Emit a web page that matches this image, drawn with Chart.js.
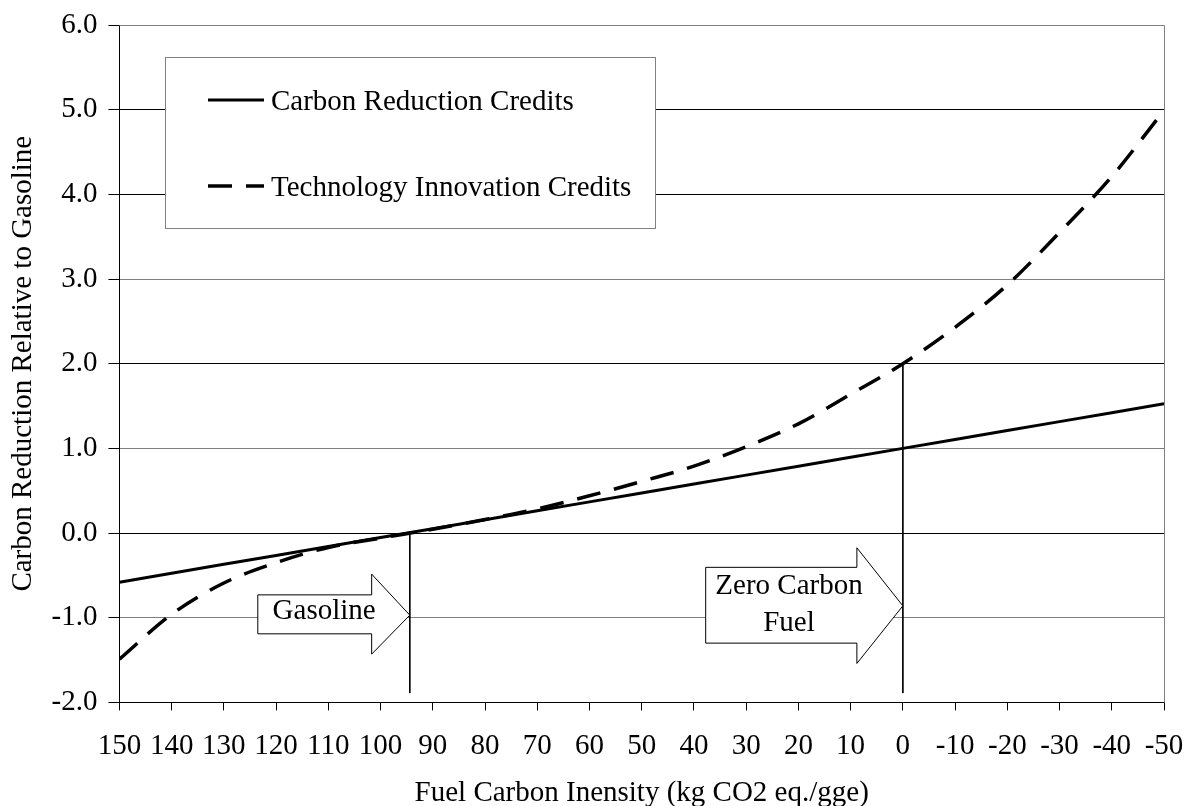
<!DOCTYPE html>
<html>
<head>
<meta charset="utf-8">
<script src="https://cdn.jsdelivr.net/npm/chart.js@4.4.1/dist/chart.umd.min.js"></script>
<style>
  html, body { margin: 0; padding: 0; background: #fff; }
  #wrap { width: 1187px; height: 806px; position: relative; }
</style>
</head>
<body>
<div id="wrap"><canvas id="c" width="1187" height="806"></canvas></div>
<script>
// ---------- DATA ----------
const fuelIntensity = [150, 140, 130, 120, 110, 100, 90, 80, 70, 60, 50, 40, 30, 20, 10, 0, -10, -20, -30, -40, -50];
const carbonReductionCredits = [-0.58, -0.474, -0.369, -0.264, -0.158, -0.053, 0.052, 0.158, 0.263, 0.368, 0.474, 0.579, 0.684, 0.789, 0.895, 1.0, 1.105, 1.21, 1.316, 1.421, 1.526];
const technologyInnovationCredits = [-1.49, -0.96, -0.59, -0.35, -0.17, -0.06, 0.045, 0.16, 0.285, 0.44, 0.61, 0.79, 1.02, 1.29, 1.64, 2.0, 2.43, 2.93, 3.55, 4.21, 4.99];
const seriesNames = ['Carbon Reduction Credits', 'Technology Innovation Credits'];
const xTickValues = { min: -50, max: 150, step: 10 };
const yTickValues = { min: -2, max: 6, step: 1 };
const xTitle = 'Fuel Carbon Inensity (kg CO2 eq./gge)';
const yTitle = 'Carbon Reduction Relative to Gasoline';
// reference markers (x in fuel intensity units, y in credit units)
const gasolineMarker = { x: 94.4, yTop: 0, yBottom: -1.89 };
const zeroCarbonMarker = { x: 0, yTop: 2.0, yBottom: -1.89 };
// callout arrows (in data units)
const callouts = [
  { lines: ['Gasoline'], left: 123.5, headStart: 101.7, tip: 94.4, top: -0.73, bottom: -1.19, headTop: -0.485, headBottom: -1.43, tipY: -0.97, textX: 110.8, textY: [-0.93] },
  { lines: ['Zero Carbon', 'Fuel'], left: 37.75, headStart: 8.8, tip: 0, top: -0.405, bottom: -1.30, headTop: -0.174, headBottom: -1.54, tipY: -0.86, textX: 21.8, textY: [-0.626, -1.063] }
];

// ---------- STYLE ----------
const FONT = '"Liberation Serif", "Times New Roman", Times, serif';
const FS = 29;
Chart.defaults.font.family = FONT;
Chart.defaults.font.size = FS;
Chart.defaults.color = '#000';

const toPts = (xs, ys) => xs.map((x, i) => ({ x: x, y: ys[i] }));

const frameAndCallouts = {
  id: 'frameAndCallouts',
  beforeDatasetsDraw(chart) {
    const { ctx, chartArea: a } = chart;
    ctx.save();
    ctx.strokeStyle = '#808080';
    ctx.lineWidth = 1;
    ctx.beginPath();
    ctx.moveTo(Math.round(a.left) + 0.5, Math.round(a.top) + 0.5);
    ctx.lineTo(Math.round(a.right) + 0.5, Math.round(a.top) + 0.5);
    ctx.lineTo(Math.round(a.right) + 0.5, Math.round(a.bottom) + 0.5);
    ctx.stroke();
    ctx.restore();
  },
  afterDatasetsDraw(chart) {
    const { ctx } = chart;
    const xs = chart.scales.x, ys = chart.scales.y;
    ctx.save();
    // arrows
    callouts.forEach(c => {
      const L = xs.getPixelForValue(c.left), H = xs.getPixelForValue(c.headStart), T = xs.getPixelForValue(c.tip);
      const top = ys.getPixelForValue(c.top), bot = ys.getPixelForValue(c.bottom);
      const hT = ys.getPixelForValue(c.headTop), hB = ys.getPixelForValue(c.headBottom), tY = ys.getPixelForValue(c.tipY);
      ctx.beginPath();
      ctx.moveTo(L, top);
      ctx.lineTo(H, top);
      ctx.lineTo(H, hT);
      ctx.lineTo(T, tY);
      ctx.lineTo(H, hB);
      ctx.lineTo(H, bot);
      ctx.lineTo(L, bot);
      ctx.closePath();
      ctx.fillStyle = '#fff';
      ctx.fill();
      ctx.strokeStyle = '#000';
      ctx.lineWidth = 1;
      ctx.stroke();
      ctx.fillStyle = '#000';
      ctx.font = FS + 'px ' + FONT;
      ctx.textAlign = 'center';
      ctx.textBaseline = 'middle';
      c.lines.forEach((t, i) => {
        ctx.fillText(t, xs.getPixelForValue(c.textX), ys.getPixelForValue(c.textY[i]));
      });
    });
    // legend box
    const bx = 165.5, by = 57.5, bw = 490, bh = 171;
    ctx.fillStyle = '#fff';
    ctx.fillRect(bx, by, bw, bh);
    ctx.strokeStyle = '#808080';
    ctx.lineWidth = 1;
    ctx.strokeRect(bx, by, bw, bh);
    const rows = [100, 186];
    chart.data.datasets.slice(0, 2).forEach((ds, i) => {
      ctx.beginPath();
      ctx.strokeStyle = '#000';
      ctx.lineWidth = ds.borderWidth;
      ctx.setLineDash(ds.borderDash || []);
      ctx.moveTo(208, rows[i]);
      ctx.lineTo(264, rows[i]);
      ctx.stroke();
      ctx.setLineDash([]);
      ctx.fillStyle = '#000';
      ctx.font = FS + 'px ' + FONT;
      ctx.textAlign = 'left';
      ctx.textBaseline = 'middle';
      ctx.fillText(ds.label, 271, rows[i] + 2);
    });
    ctx.restore();
  }
};

new Chart(document.getElementById('c'), {
  type: 'line',
  data: {
    datasets: [
      {
        label: seriesNames[0],
        data: toPts(fuelIntensity, carbonReductionCredits),
        borderColor: '#000', borderWidth: 3, pointRadius: 0, fill: false
      },
      {
        label: seriesNames[1],
        data: toPts(fuelIntensity, technologyInnovationCredits),
        borderColor: '#000', borderWidth: 3.5, borderDash: [24, 14], pointRadius: 0, fill: false,
        cubicInterpolationMode: 'monotone'
      },
      {
        label: 'gasoline marker',
        data: [{ x: gasolineMarker.x, y: gasolineMarker.yTop }, { x: gasolineMarker.x, y: gasolineMarker.yBottom }],
        borderColor: '#000', borderWidth: 1, pointRadius: 0, fill: false
      },
      {
        label: 'zero carbon marker',
        data: [{ x: zeroCarbonMarker.x, y: zeroCarbonMarker.yTop }, { x: zeroCarbonMarker.x, y: zeroCarbonMarker.yBottom }],
        borderColor: '#000', borderWidth: 1, pointRadius: 0, fill: false
      }
    ]
  },
  options: {
    responsive: false,
    animation: false,
    devicePixelRatio: 1,
    layout: { padding: { top: 25, right: 23, left: 0, bottom: 0 } },
    plugins: { legend: { display: false }, tooltip: { enabled: false } },
    scales: {
      x: {
        type: 'linear',
        reverse: true,
        min: xTickValues.min, max: xTickValues.max,
        ticks: { stepSize: xTickValues.step, autoSkip: false, maxRotation: 0, minRotation: 0, padding: 19, color: '#000',
                 font: { size: FS }, callback: v => String(v) },
        grid: { drawOnChartArea: false, tickLength: 8, color: '#000', tickColor: '#000' },
        border: { color: '#000', width: 1 },
        title: { display: true, text: xTitle, color: '#000', font: { size: FS, lineHeight: 0.9 }, padding: 0 },
        afterFit: s => { s.height = 103.6; s.paddingLeft = 0; s.paddingRight = 0; }
      },
      y: {
        min: yTickValues.min, max: yTickValues.max,
        ticks: { stepSize: yTickValues.step, padding: 11, color: '#000', font: { size: FS }, callback: v => Number(v).toFixed(1) },
        grid: { color: c => ([0, 2, 4, 5].includes(c.tick && c.tick.value) ? '#000' : '#808080'), tickLength: 11, tickColor: '#000' },
        border: { color: '#000', width: 1 },
        title: { display: true, text: yTitle, color: '#000', font: { size: FS }, padding: { top: 6, bottom: 0 } },
        afterFit: s => { s.width = 119.4; s.paddingTop = 0; s.paddingBottom = 0; }
      }
    }
  },
  plugins: [frameAndCallouts]
});
</script>
</body>
</html>
